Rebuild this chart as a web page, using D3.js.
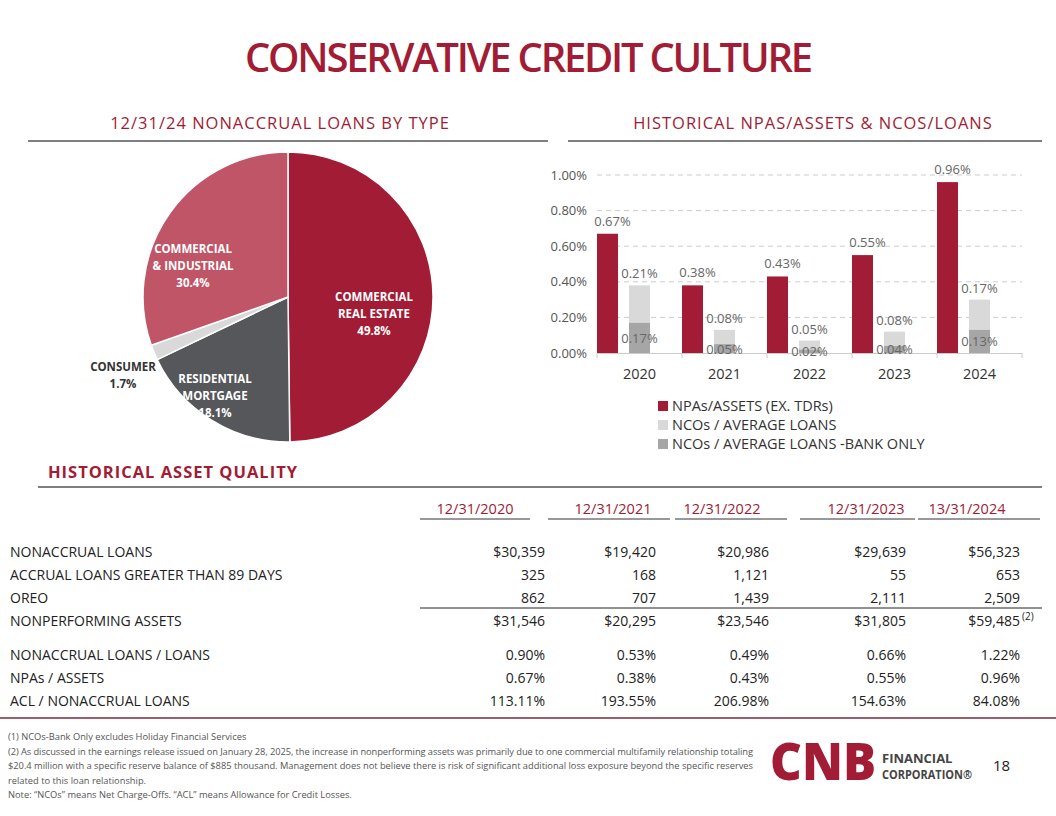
<!DOCTYPE html>
<html><head><meta charset="utf-8">
<script src="https://cdn.jsdelivr.net/npm/d3@7"></script>
<style>body{margin:0;background:#fff}text{font-family:"Open Sans","Noto Sans",sans-serif}</style>
</head><body>
<svg id="s" width="1056" height="816"></svg>
<script>
const red = "#a11c34"
const pieLabels = ["COMMERCIAL\nREAL ESTATE\n49.8%", "RESIDENTIAL\nMORTGAGE\n18.1%", "CONSUMER\n1.7%", "COMMERCIAL\n& INDUSTRIAL\n30.4%"]
const pieValues = [49.8, 18.1, 1.7, 30.4]
const pieColors = [red, "#55575a", "#d9d9d9", "#c05567"]

const years = ["2020", "2021", "2022", "2023", "2024"]
const npas = [0.67, 0.38, 0.43, 0.55, 0.96]
const ncos = [0.21, 0.08, 0.05, 0.08, 0.17]
const ncosBank = [0.17, 0.05, 0.02, 0.04, 0.13]
const yTicks = [0, 0.2, 0.4, 0.6, 0.8, 1.0]

const colHeads = ["12/31/2020", "12/31/2021", "12/31/2022", "12/31/2023", "13/31/2024"]
const rowNames = ["NONACCRUAL LOANS", "ACCRUAL LOANS GREATER THAN 89 DAYS", "OREO", "NONPERFORMING ASSETS",
  "NONACCRUAL LOANS / LOANS", "NPAs / ASSETS", "ACL / NONACCRUAL LOANS"]
const rowValues = [
  ["$30,359", "$19,420", "$20,986", "$29,639", "$56,323"],
  ["325", "168", "1,121", "55", "653"],
  ["862", "707", "1,439", "2,111", "2,509"],
  ["$31,546", "$20,295", "$23,546", "$31,805", "$59,485"],
  ["0.90%", "0.53%", "0.49%", "0.66%", "1.22%"],
  ["0.67%", "0.38%", "0.43%", "0.55%", "0.96%"],
  ["113.11%", "193.55%", "206.98%", "154.63%", "84.08%"]
]

let svg = d3.select("#s")
svg.append("text").attr("x", 528).attr("y", 72).attr("text-anchor", "middle").attr("font-weight", 600)
  .attr("font-size", 40).attr("fill", red).attr("letter-spacing", -2).attr("textLength", 566).text("CONSERVATIVE CREDIT CULTURE")

// section headings
function heading(x, y, txt, x1, x2, anchor) {
  svg.append("text").attr("x", x).attr("y", y).attr("text-anchor", anchor).attr("font-size", 16.5)
    .attr("fill", red).attr("letter-spacing", 1).text(txt)
  svg.append("line").attr("x1", x1).attr("x2", x2).attr("y1", y + 12).attr("y2", y + 12).attr("stroke", "#555").attr("stroke-width", 1.3)
}
heading(280, 129, "12/31/24 NONACCRUAL LOANS BY TYPE", 28, 548, "middle")
heading(813, 129, "HISTORICAL NPAS/ASSETS & NCOS/LOANS", 568, 1042, "middle")

// pie
let pieG = svg.append("g").attr("transform", "translate(288,297)")
let arcs = d3.pie().sort(null)(pieValues)
let arc = d3.arc().innerRadius(0).outerRadius(145)
pieG.selectAll("path").data(arcs).enter().append("path").attr("d", arc)
  .attr("fill", (d, i) => pieColors[i]).attr("stroke", "#fff").attr("stroke-width", 1.5)
const labelPos = [[86, 4], [-73, 86], [-165, 74], [-95, -44]]
const labelFill = ["#fff", "#fff", "#333", "#fff"]
labelPos.forEach((p, i) => {
  let t = pieG.append("text").attr("text-anchor", "middle").attr("font-size", 11.5).attr("font-weight", 700)
    .attr("fill", labelFill[i])
  pieLabels[i].split("\n").forEach((l, j) => t.append("tspan").attr("x", p[0]).attr("y", p[1] + j * 17).text(l))
})

// bar chart
let y = d3.scaleLinear().domain([0, 1]).range([353, 175])
let x = d3.scaleBand().domain(years).range([597, 1022])
let bw = 21
let bc = svg.append("g")
bc.selectAll(".grid").data(yTicks.slice(1)).enter().append("line")
  .attr("x1", 597).attr("x2", 1022).attr("y1", d => y(d)).attr("y2", d => y(d))
  .attr("stroke", "#ccc").attr("stroke-dasharray", "5,4")
let yAxis = bc.append("g").attr("transform", "translate(590,0)")
  .call(d3.axisLeft(y).tickValues(yTicks).tickSize(0).tickFormat(d => d.toFixed(2) + "%"))
yAxis.select(".domain").remove()
yAxis.selectAll("text").attr("font-size", 13).attr("fill", "#555").attr("font-family", "Open Sans")
let xAxis = bc.append("g").attr("transform", "translate(0,353)")
  .call(d3.axisBottom(x).tickSize(5).tickSizeOuter(0))
xAxis.select(".domain").attr("stroke", "#ccc")
xAxis.selectAll(".tick line").attr("stroke", "#ccc").attr("transform", `translate(${-x.bandwidth() / 2},0)`)
xAxis.selectAll("text").attr("font-size", 14.5).attr("fill", "#333").attr("dy", 18).attr("font-family", "Open Sans")
bc.append("line").attr("x1", 1022).attr("x2", 1022).attr("y1", 353).attr("y2", 358).attr("stroke", "#ccc")

let gx = d => x(d) + 32
let lbl = (xx, yy, t) => bc.append("text").attr("x", xx).attr("y", yy).attr("text-anchor", "middle")
  .attr("font-size", 13).attr("fill", "#666").text(t)
years.forEach((yr, i) => {
  let rx = x(yr)
  bc.append("rect").attr("x", rx).attr("width", bw).attr("y", y(npas[i])).attr("height", y(0) - y(npas[i])).attr("fill", red)
  lbl(rx + bw / 2 + 5, y(npas[i]) - 8, npas[i].toFixed(2) + "%")
  let tot = ncos[i] + ncosBank[i]
  bc.append("rect").attr("x", gx(yr)).attr("width", bw).attr("y", y(tot)).attr("height", y(ncosBank[i]) - y(tot)).attr("fill", "#d9d9d9")
  bc.append("rect").attr("x", gx(yr)).attr("width", bw).attr("y", y(ncosBank[i])).attr("height", y(0) - y(ncosBank[i])).attr("fill", "#a6a6a6")
  lbl(gx(yr) + bw / 2, y(tot) - 7, ncos[i].toFixed(2) + "%")
  lbl(gx(yr) + bw / 2, Math.min(y(ncosBank[i] / 2) + 5, 357), ncosBank[i].toFixed(2) + "%")
})
const legendNames = ["NPAs/ASSETS (EX. TDRs)", "NCOs / AVERAGE LOANS", "NCOs / AVERAGE LOANS -BANK ONLY"]
const legendColors = [red, "#d9d9d9", "#a6a6a6"]
legendNames.forEach((n, i) => {
  bc.append("rect").attr("x", 658).attr("y", 401 + i * 19).attr("width", 10).attr("height", 10).attr("fill", legendColors[i])
  bc.append("text").attr("x", 672).attr("y", 411 + i * 19).attr("font-size", 14.5).attr("fill", "#333").text(n)
})

// table
svg.append("text").attr("x", 48).attr("y", 478).attr("font-size", 16.5).attr("font-weight", 700).attr("fill", red)
  .attr("letter-spacing", 1).text("HISTORICAL ASSET QUALITY")
svg.append("line").attr("x1", 38).attr("x2", 1042).attr("y1", 487).attr("y2", 487).attr("stroke", "#555").attr("stroke-width", 1.3)
const colRight = [531, 656, 769, 906, 1020]
const colHeadX = [475, 613, 722, 866, 967]
const colSpan = [[420, 530], [548, 670], [675, 787], [800, 915], [918, 1040]]
colHeads.forEach((h, i) => {
  svg.append("text").attr("x", colHeadX[i]).attr("y", 514).attr("text-anchor", "middle").attr("font-size", 14.5).attr("fill", red).text(h)
  svg.append("line").attr("x1", colSpan[i][0]).attr("x2", colSpan[i][1]).attr("y1", 519).attr("y2", 519).attr("stroke", "#333")
})
const rowY = [557, 580, 603, 626, 660, 683, 706]
rowNames.forEach((r, i) => {
  svg.append("text").attr("x", 10).attr("y", rowY[i]).attr("font-size", 14).attr("fill", "#222").text(r)
  rowValues[i].forEach((v, j) => {
    svg.append("text").attr("x", colRight[j] + (j === 0 ? 14 : 0)).attr("y", rowY[i]).attr("text-anchor", "end")
      .attr("font-size", 14).attr("fill", "#222").text(v)
  })
})
svg.append("text").attr("x", 1022).attr("y", 620).attr("font-size", 10).attr("fill", "#222").text("(2)")
svg.append("line").attr("x1", 420).attr("x2", 1042).attr("y1", 608).attr("y2", 608).attr("stroke", "#222")
svg.append("line").attr("x1", 0).attr("x2", 1056).attr("y1", 718).attr("y2", 718).attr("stroke", "#7a2a3a").attr("stroke-width", 1.5)

// footnotes
const notes = ["(1) NCOs-Bank Only excludes Holiday Financial Services",
  "(2) As discussed in the earnings release issued on January 28, 2025, the increase in nonperforming assets was primarily due to one commercial multifamily relationship totaling",
  "$20.4 million with a specific reserve balance of $885 thousand. Management does not believe there is risk of significant additional loss exposure beyond the specific reserves",
  "related to this loan relationship.",
  "Note: \u201cNCOs\u201d means Net Charge-Offs. \u201cACL\u201d means Allowance for Credit Losses."]
notes.forEach((n, i) => svg.append("text").attr("x", 8).attr("y", 740 + i * 14.5).attr("font-size", 9.3)
  .attr("fill", "#555").attr("textLength", i === 1 || i === 2 ? 745 : null).text(n))

// logo
svg.append("text").attr("x", 770).attr("y", 780).attr("font-size", 52).attr("font-weight", 900)
  .attr("font-family", "Liberation Sans").attr("fill", red).attr("lengthAdjust", "spacingAndGlyphs").attr("textLength", 106).text("CNB")
svg.append("text").attr("x", 882).attr("y", 763).attr("font-size", 13).attr("font-weight", 700).attr("font-family", "Liberation Sans").attr("fill", "#444").text("FINANCIAL")
svg.append("text").attr("x", 882).attr("y", 779).attr("font-size", 13).attr("font-weight", 700).attr("font-family", "Liberation Sans").attr("lengthAdjust", "spacingAndGlyphs").attr("textLength", 90).attr("fill", "#444").text("CORPORATION\u00ae")
svg.append("text").attr("x", 993).attr("y", 771).attr("font-size", 15).attr("font-family", "Liberation Sans").attr("fill", "#222").text("18")
</script>
</body></html>
